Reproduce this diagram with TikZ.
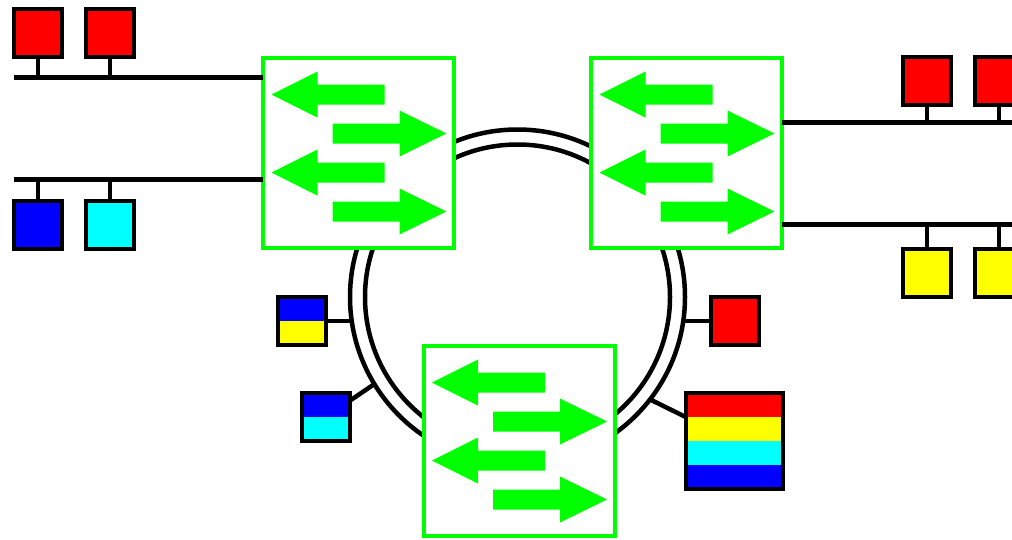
\documentclass[tikz,border=0pt]{standalone}
\usetikzlibrary{calc}
\definecolor{swgreen}{RGB}{0,255,0}
\definecolor{dred}{RGB}{255,0,0}
\definecolor{dblue}{RGB}{0,0,255}
\definecolor{dcyan}{RGB}{0,255,255}
\definecolor{dyellow}{RGB}{255,255,0}
\tikzset{
  leftarrow/.pic={\fill[swgreen] (-87,0) -- (-41,-23) -- (-41,-10) -- (26,-10) -- (26,10) -- (-41,10) -- (-41,23) -- cycle;},
  rightarrow/.pic={\fill[swgreen] (88,0) -- (41,-23) -- (41,-10) -- (-26,-10) -- (-26,10) -- (41,10) -- (41,23) -- cycle;},
  swarrows/.pic={
    \pic at (0,-58) {leftarrow};
    \pic at (0,-19) {rightarrow};
    \pic at (0,20) {leftarrow};
    \pic at (0,59) {rightarrow};
  },
}
\begin{document}
\begin{tikzpicture}[x=1pt,y=-1pt,
  dev/.style={draw=black,line width=4pt,minimum size=48pt,inner sep=0pt,outer sep=0pt},
  switchbox/.style={draw=swgreen,fill=white,line width=4pt,minimum width=191pt,minimum height=190pt,inner sep=0pt,outer sep=0pt},
  twotone/.style 2 args={path picture={
    \fill[#1] (path picture bounding box.north west) rectangle (path picture bounding box.east);
    \fill[#2] (path picture bounding box.west) rectangle (path picture bounding box.south east);}},
  bus/.style={line width=5pt},
  stub/.style={line width=4.5pt},
  ringline/.style={line width=4.5pt},
  link/.style={line width=4.5pt},
]
\clip (0,0) rectangle (1012,539);

% ring
\coordinate (ringc) at (517.5,297);
\draw[ringline] (ringc) circle[radius=167.5];
\draw[ringline] (ringc) circle[radius=152.5];

% switches
\node[switchbox] (sw1) at (358.5,152.5) {};
\pic at (sw1.center) {swarrows};
\node[switchbox] (sw2) at (686.5,152.5) {};
\pic at (sw2.center) {swarrows};
\node[switchbox] (sw3) at (519,440.5) {};
\pic at (sw3.center) {swarrows};

% LAN devices
\node[dev,fill=dred] (tl1) at (38,32.5) {};
\node[dev,fill=dred] (tl2) at (110,32.5) {};
\node[dev,fill=dblue] (bl1) at (38,224.5) {};
\node[dev,fill=dcyan] (bl2) at (110,224.5) {};
\node[dev,fill=dred] (tr1) at (927,81) {};
\node[dev,fill=dred] (tr2) at (999,81) {};
\node[dev,fill=dyellow] (br1) at (927,273) {};
\node[dev,fill=dyellow] (br2) at (999,273) {};

% buses
\coordinate (busA) at (14,77);
\coordinate (busB) at (14,179);
\coordinate (busC) at (1012,122);
\coordinate (busD) at (1012,224);
\draw[bus] (busA) -- (busA -| sw1.west);
\draw[bus] (busB) -- (busB -| sw1.west);
\draw[bus] (sw2.east |- busC) -- (busC);
\draw[bus] (sw2.east |- busD) -- (busD);
\draw[stub] (tl1.south) -- (tl1.south |- busA);
\draw[stub] (tl2.south) -- (tl2.south |- busA);
\draw[stub] (bl1.north) -- (bl1.north |- busB);
\draw[stub] (bl2.north) -- (bl2.north |- busB);
\draw[stub] (tr1.south) -- (tr1.south |- busC);
\draw[stub] (tr2.south) -- (tr2.south |- busC);
\draw[stub] (br1.north) -- (br1.north |- busD);
\draw[stub] (br2.north) -- (br2.north |- busD);

% ring devices
\node[dev,twotone={dblue}{dyellow}] (by) at (302,321) {};
\node[dev,twotone={dblue}{dcyan}] (bc) at (326,417) {};
\node[dev,fill=dred] (rs) at (734.5,321) {};
\node[dev,minimum size=96.5pt,path picture={
  \path (path picture bounding box.north west) coordinate (rbnw)
        (path picture bounding box.south west) coordinate (rbsw)
        (path picture bounding box.north east) coordinate (rbne)
        (path picture bounding box.south east) coordinate (rbse);
  \foreach \c [count=\i from 0] in {dred,dyellow,dcyan,dblue} {
    \fill[\c] ($(rbnw)!{\i/4}!(rbsw)$) rectangle ($(rbne)!{(\i+1)/4}!(rbse)$);
  }}] (rb) at (734.5,441) {};

% ring links
\coordinate (rp1) at (351.7,321);
\coordinate (rp2) at (374.4,384);
\coordinate (rp3) at (683.3,321);
\coordinate (rp4) at (650,399.4);
\draw[link] (rp1) -- (by);
\draw[link] (rp2) -- (bc);
\draw[link] (rp3) -- (rs);
\draw[link] (rp4) -- (rb);
\end{tikzpicture}
\end{document}
